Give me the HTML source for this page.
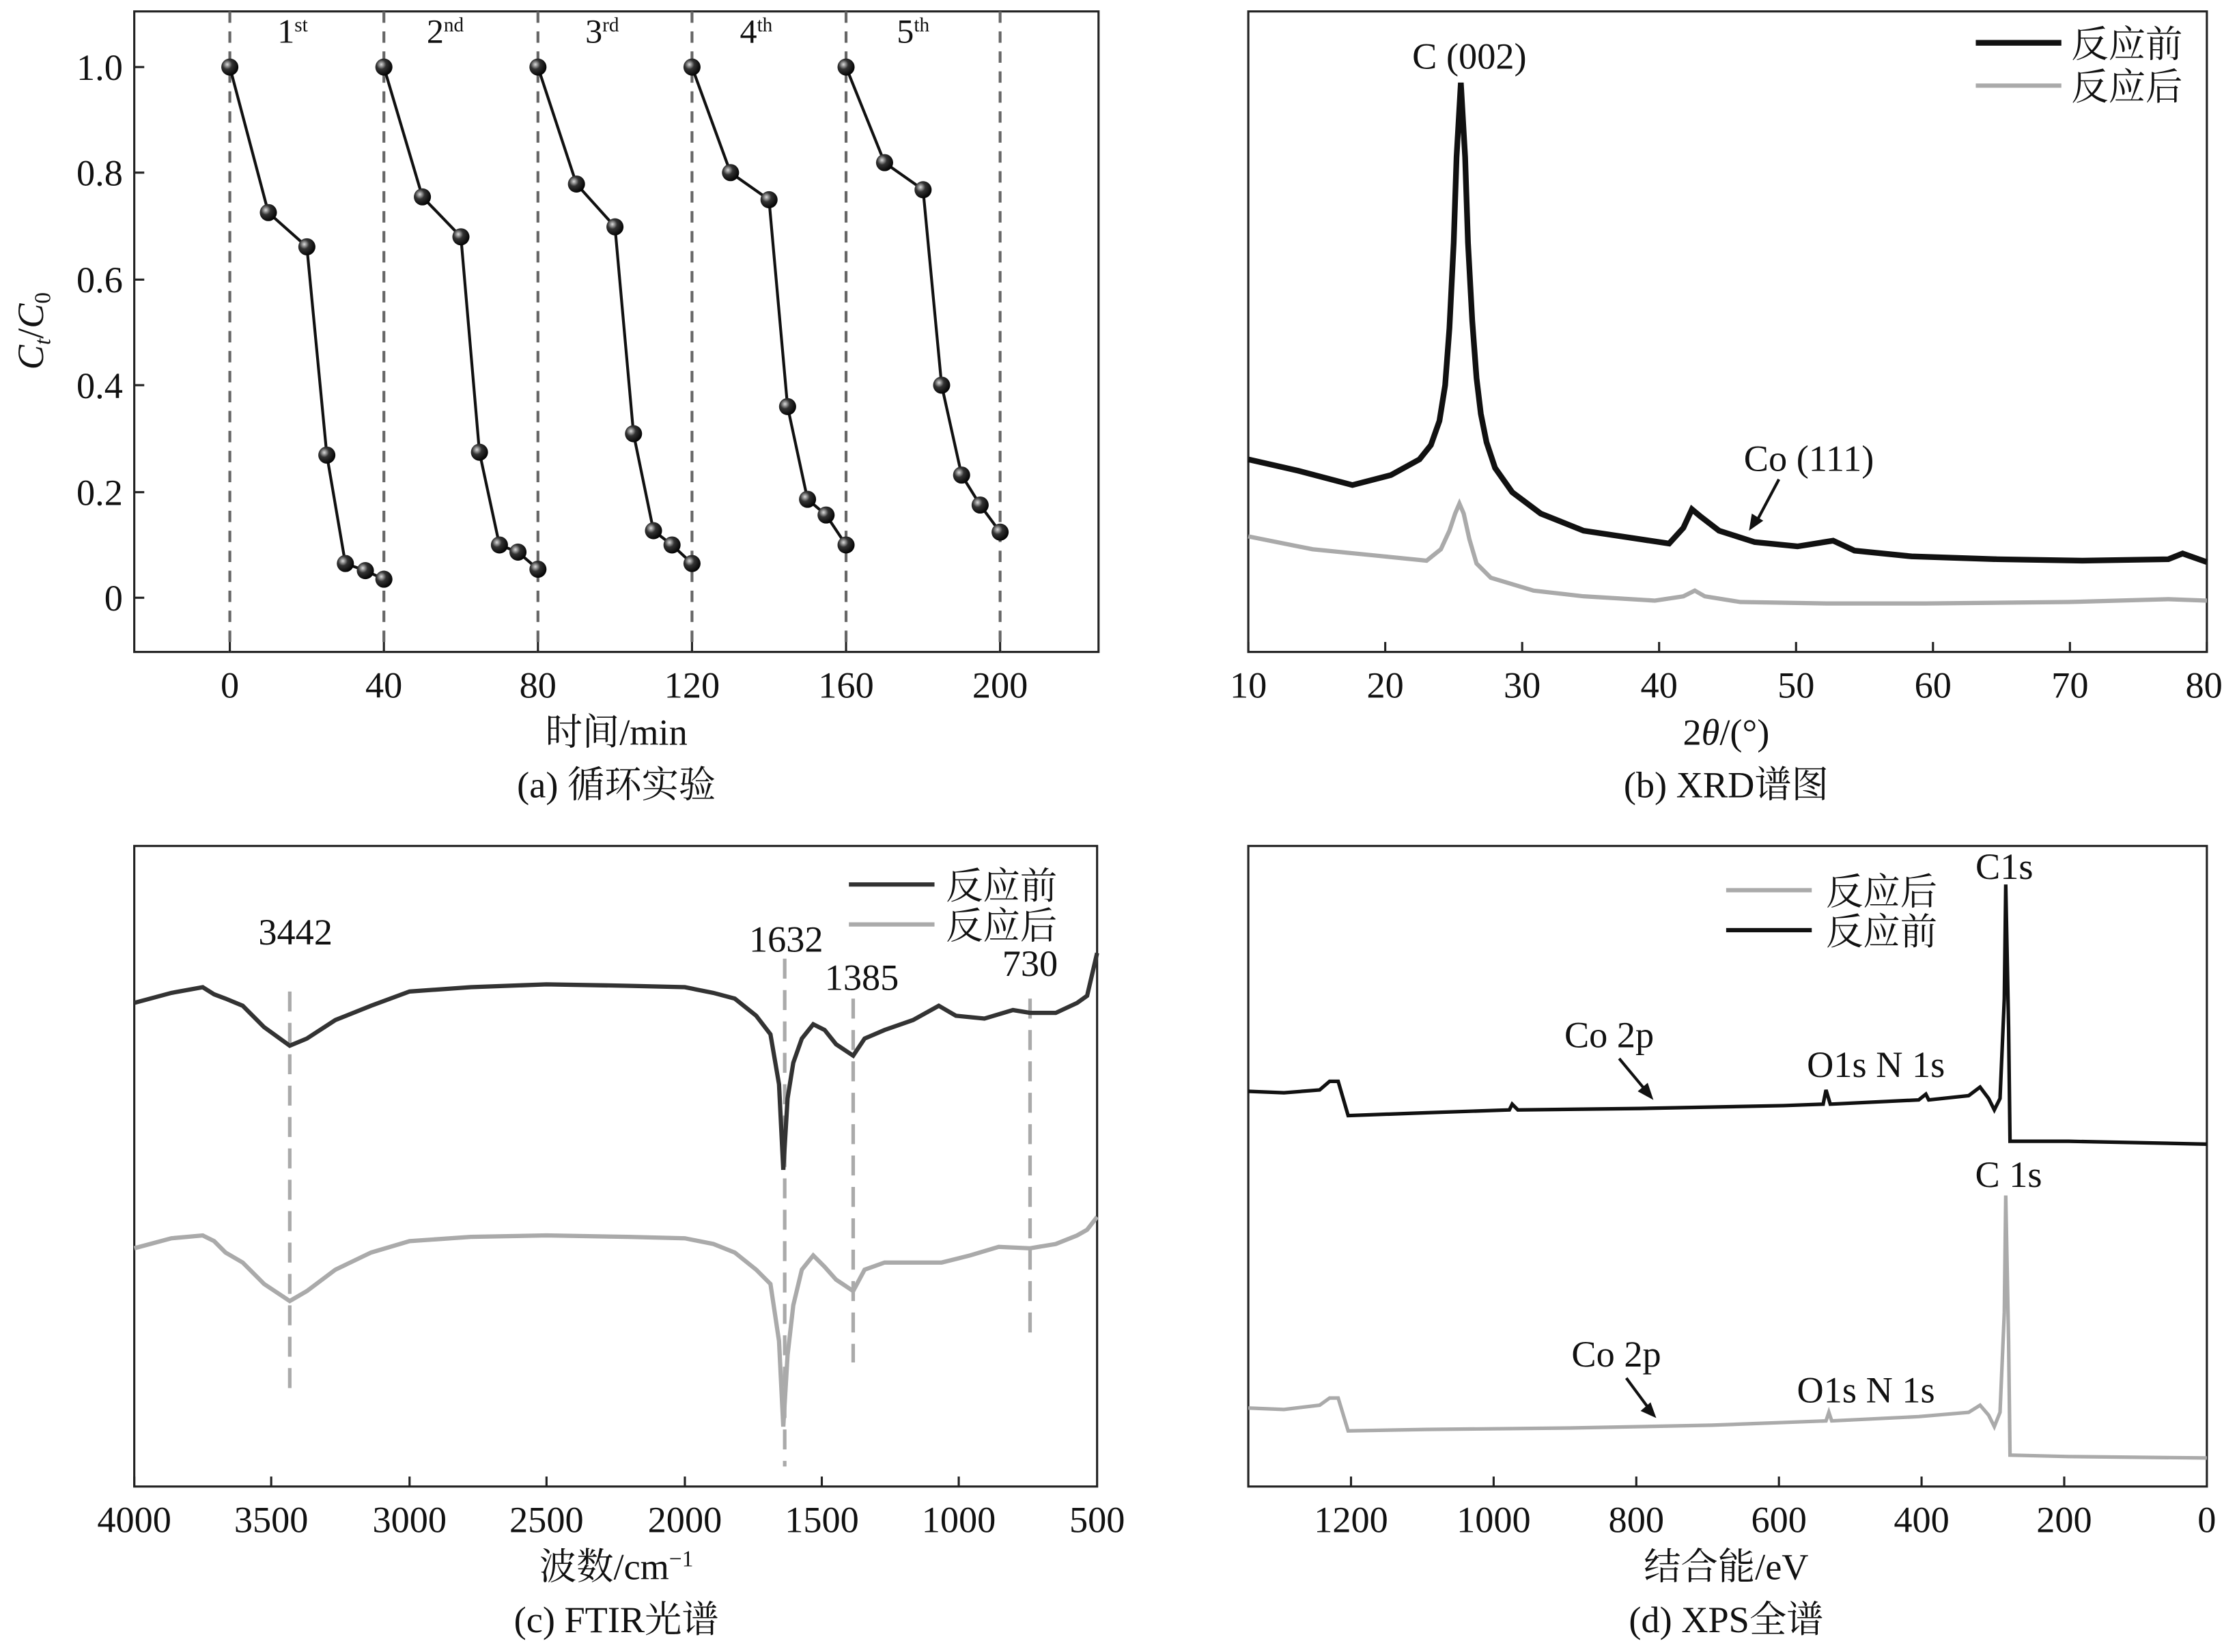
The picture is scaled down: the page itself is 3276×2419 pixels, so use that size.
<!DOCTYPE html>
<html><head><meta charset="utf-8"><style>
html,body{margin:0;padding:0;background:#fff;}
svg{display:block;}
text{font-family:"Liberation Serif","Noto Serif CJK SC",serif;fill:#111;}
</style></head><body>
<svg width="3276" height="2419" viewBox="0 0 1568 1158" xmlns="http://www.w3.org/2000/svg">
<defs>
<radialGradient id="ball" cx="0.35" cy="0.35" r="0.7"><stop offset="0" stop-color="#ddd"/><stop offset="0.4" stop-color="#333"/><stop offset="1" stop-color="#000"/></radialGradient>
</defs>
<g font-size="26">
<!-- Panel a -->
<rect x="94" y="8" width="676" height="449" fill="none" stroke="#222" stroke-width="1.5"/>
<g stroke="#666" stroke-width="2" stroke-dasharray="8,6">
<line x1="161" y1="8" x2="161" y2="457"/><line x1="269" y1="8" x2="269" y2="457"/><line x1="377" y1="8" x2="377" y2="457"/><line x1="485" y1="8" x2="485" y2="457"/><line x1="593" y1="8" x2="593" y2="457"/><line x1="701" y1="8" x2="701" y2="457"/>
</g>
<g stroke="#222" stroke-width="1.5">
<line x1="94" y1="47" x2="101" y2="47"/><line x1="94" y1="121" x2="101" y2="121"/><line x1="94" y1="196" x2="101" y2="196"/><line x1="94" y1="270" x2="101" y2="270"/><line x1="94" y1="345" x2="101" y2="345"/><line x1="94" y1="419" x2="101" y2="419"/>
<line x1="161" y1="457" x2="161" y2="450"/><line x1="269" y1="457" x2="269" y2="450"/><line x1="377" y1="457" x2="377" y2="450"/><line x1="485" y1="457" x2="485" y2="450"/><line x1="593" y1="457" x2="593" y2="450"/><line x1="701" y1="457" x2="701" y2="450"/>
</g>
<g text-anchor="end"><text x="86" y="56">1.0</text><text x="86" y="130">0.8</text><text x="86" y="205">0.6</text><text x="86" y="279">0.4</text><text x="86" y="354">0.2</text><text x="86" y="428">0</text></g>
<g text-anchor="middle"><text x="161" y="489">0</text><text x="269" y="489">40</text><text x="377" y="489">80</text><text x="485" y="489">120</text><text x="593" y="489">160</text><text x="701" y="489">200</text>
<text x="432" y="522">时间/min</text><text x="432" y="559">(a) 循环实验</text></g>
<text transform="translate(30,232) rotate(-90)" text-anchor="middle" font-style="italic">C<tspan font-size="16" dy="5">t</tspan><tspan dy="-5" font-style="normal">/</tspan>C<tspan font-size="16" dy="5" font-style="normal">0</tspan></text>
<g text-anchor="middle" font-size="24"><text x="205" y="30">1<tspan font-size="14" dy="-8">st</tspan></text><text x="312" y="30">2<tspan font-size="14" dy="-8">nd</tspan></text><text x="422" y="30">3<tspan font-size="14" dy="-8">rd</tspan></text><text x="530" y="30">4<tspan font-size="14" dy="-8">th</tspan></text><text x="640" y="30">5<tspan font-size="14" dy="-8">th</tspan></text></g>
<g fill="none" stroke="#111" stroke-width="2">
<polyline points="161,47 188,149 215,173 229,319 242,395 256,400 269,406"/>
<polyline points="269,47 296,138 323,166 336,317 350,382 363,387 377,399"/>
<polyline points="377,47 404,129 431,159 444,304 458,372 471,382 485,395"/>
<polyline points="485,47 512,121 539,140 552,285 566,350 579,361 593,382"/>
<polyline points="593,47 620,114 647,133 660,270 674,333 687,354 701,373"/>
</g>
<g fill="url(#ball)">
<circle cx="161" cy="47" r="6"/><circle cx="188" cy="149" r="6"/><circle cx="215" cy="173" r="6"/><circle cx="229" cy="319" r="6"/><circle cx="242" cy="395" r="6"/><circle cx="256" cy="400" r="6"/><circle cx="269" cy="406" r="6"/>
<circle cx="269" cy="47" r="6"/><circle cx="296" cy="138" r="6"/><circle cx="323" cy="166" r="6"/><circle cx="336" cy="317" r="6"/><circle cx="350" cy="382" r="6"/><circle cx="363" cy="387" r="6"/><circle cx="377" cy="399" r="6"/>
<circle cx="377" cy="47" r="6"/><circle cx="404" cy="129" r="6"/><circle cx="431" cy="159" r="6"/><circle cx="444" cy="304" r="6"/><circle cx="458" cy="372" r="6"/><circle cx="471" cy="382" r="6"/><circle cx="485" cy="395" r="6"/>
<circle cx="485" cy="47" r="6"/><circle cx="512" cy="121" r="6"/><circle cx="539" cy="140" r="6"/><circle cx="552" cy="285" r="6"/><circle cx="566" cy="350" r="6"/><circle cx="579" cy="361" r="6"/><circle cx="593" cy="382" r="6"/>
<circle cx="593" cy="47" r="6"/><circle cx="620" cy="114" r="6"/><circle cx="647" cy="133" r="6"/><circle cx="660" cy="270" r="6"/><circle cx="674" cy="333" r="6"/><circle cx="687" cy="354" r="6"/><circle cx="701" cy="373" r="6"/>
</g>

<!-- Panel b -->
<rect x="875" y="8" width="672" height="449" fill="none" stroke="#222" stroke-width="1.5"/>
<g stroke="#222" stroke-width="1.5">
<line x1="875" y1="457" x2="875" y2="450"/><line x1="971" y1="457" x2="971" y2="450"/><line x1="1067" y1="457" x2="1067" y2="450"/><line x1="1163" y1="457" x2="1163" y2="450"/><line x1="1259" y1="457" x2="1259" y2="450"/><line x1="1355" y1="457" x2="1355" y2="450"/><line x1="1451" y1="457" x2="1451" y2="450"/><line x1="1547" y1="457" x2="1547" y2="450"/>
</g>
<g text-anchor="middle"><text x="875" y="489">10</text><text x="971" y="489">20</text><text x="1067" y="489">30</text><text x="1163" y="489">40</text><text x="1259" y="489">50</text><text x="1355" y="489">60</text><text x="1451" y="489">70</text><text x="1545" y="489">80</text>
<text x="1210" y="522">2<tspan font-style="italic">θ</tspan>/(°)</text><text x="1210" y="559">(b) XRD谱图</text></g>
<polyline fill="none" stroke="#111" stroke-width="4" points="875,322 910,330 948,340 975,333 995,322 1003,312 1009,295 1013,270 1016,230 1019,170 1021,110 1024,58 1027,110 1029,170 1032,225 1035,265 1038,290 1042,310 1048,328 1060,345 1080,360 1110,372 1150,378 1170,381 1180,370 1186,357 1192,362 1205,372 1230,380 1260,383 1285,379 1300,386 1340,390 1400,392 1460,393 1520,392 1530,388 1547,394"/>
<polyline fill="none" stroke="#aaa" stroke-width="3" points="875,376 920,385 970,390 1000,393 1010,385 1016,372 1020,360 1023,353 1026,360 1030,378 1035,395 1045,405 1075,414 1110,418 1160,421 1180,418 1188,414 1195,418 1220,422 1280,423 1350,423 1450,422 1520,420 1547,421"/>
<text x="1030" y="48" text-anchor="middle">C (002)</text>
<text x="1268" y="330" text-anchor="middle">Co (111)</text>
<line x1="1247" y1="336" x2="1230" y2="368" stroke="#111" stroke-width="2"/><polygon points="1226,372 1228,360 1236,365" fill="#111"/>
<line x1="1385" y1="30" x2="1445" y2="30" stroke="#111" stroke-width="4"/><text x="1452" y="40">反应前</text>
<line x1="1385" y1="60" x2="1445" y2="60" stroke="#aaa" stroke-width="3"/><text x="1452" y="70">反应后</text>

<!-- Panel c -->
<rect x="94" y="593" width="675" height="449" fill="none" stroke="#222" stroke-width="1.5"/>
<g stroke="#222" stroke-width="1.5">
<line x1="94" y1="1042" x2="94" y2="1035"/><line x1="190" y1="1042" x2="190" y2="1035"/><line x1="287" y1="1042" x2="287" y2="1035"/><line x1="383" y1="1042" x2="383" y2="1035"/><line x1="480" y1="1042" x2="480" y2="1035"/><line x1="576" y1="1042" x2="576" y2="1035"/><line x1="672" y1="1042" x2="672" y2="1035"/>
</g>
<g text-anchor="middle"><text x="94" y="1074">4000</text><text x="190" y="1074">3500</text><text x="287" y="1074">3000</text><text x="383" y="1074">2500</text><text x="480" y="1074">2000</text><text x="576" y="1074">1500</text><text x="672" y="1074">1000</text><text x="769" y="1074">500</text>
<text x="432" y="1107">波数/cm<tspan font-size="16" dy="-9">−1</tspan></text><text x="432" y="1144">(c) FTIR光谱</text></g>
<g stroke="#aaa" stroke-width="2.5" stroke-dasharray="14,8">
<line x1="203" y1="695" x2="203" y2="975"/><line x1="550" y1="672" x2="550" y2="1028"/><line x1="598" y1="700" x2="598" y2="955"/><line x1="722" y1="700" x2="722" y2="940"/>
</g>
<polyline fill="none" stroke="#333" stroke-width="3" points="94,703 120,696 142,692 150,697 158,700 170,705 185,720 203,733 215,728 235,715 260,705 287,695 330,692 383,690 440,691 480,692 500,696 515,700 530,712 540,725 546,760 549,820 552,770 556,745 562,728 570,718 578,722 586,732 598,740 606,728 620,722 640,715 658,705 670,712 690,714 710,708 722,710 740,710 755,703 762,698 769,668"/>
<polyline fill="none" stroke="#aaa" stroke-width="3" points="94,875 120,868 142,866 150,870 158,878 170,885 185,900 203,912 215,905 235,890 260,878 287,870 330,867 383,866 440,867 480,868 500,872 515,878 530,890 540,900 546,940 549,1000 552,950 556,915 562,890 570,880 578,888 586,897 598,905 606,890 620,885 660,885 680,880 700,874 722,875 740,872 755,866 762,862 769,853"/>
<g text-anchor="middle"><text x="207" y="662">3442</text><text x="551" y="667">1632</text><text x="604" y="694">1385</text><text x="722" y="684">730</text></g>
<line x1="595" y1="620" x2="655" y2="620" stroke="#333" stroke-width="3"/><text x="663" y="630">反应前</text>
<line x1="595" y1="648" x2="655" y2="648" stroke="#aaa" stroke-width="3"/><text x="663" y="658">反应后</text>

<!-- Panel d -->
<rect x="875" y="593" width="672" height="449" fill="none" stroke="#222" stroke-width="1.5"/>
<g stroke="#222" stroke-width="1.5">
<line x1="947" y1="1042" x2="947" y2="1035"/><line x1="1047" y1="1042" x2="1047" y2="1035"/><line x1="1147" y1="1042" x2="1147" y2="1035"/><line x1="1247" y1="1042" x2="1247" y2="1035"/><line x1="1347" y1="1042" x2="1347" y2="1035"/><line x1="1447" y1="1042" x2="1447" y2="1035"/>
</g>
<g text-anchor="middle"><text x="947" y="1074">1200</text><text x="1047" y="1074">1000</text><text x="1147" y="1074">800</text><text x="1247" y="1074">600</text><text x="1347" y="1074">400</text><text x="1447" y="1074">200</text><text x="1547" y="1074">0</text>
<text x="1210" y="1107">结合能/eV</text><text x="1210" y="1144">(d) XPS全谱</text></g>
<polyline fill="none" stroke="#111" stroke-width="2.5" points="875,765 900,766 925,764 932,758 938,758 945,782 1000,780 1058,778 1060,774 1064,778 1150,777 1250,775 1278,774 1280,764 1283,774 1345,771 1350,767 1352,771 1380,768 1388,762 1394,770 1398,778 1402,770 1405,700 1406,620 1408,720 1409,800 1450,800 1500,801 1547,802"/>
<polyline fill="none" stroke="#aaa" stroke-width="2.5" points="875,987 900,988 925,985 932,980 938,980 945,1003 1000,1002 1100,1001 1200,999 1280,996 1282,990 1284,996 1345,993 1380,990 1388,985 1394,992 1398,1000 1402,990 1405,920 1406,838 1408,940 1409,1020 1450,1021 1547,1022"/>
<text x="1405" y="616" text-anchor="middle">C1s</text>
<text x="1408" y="832" text-anchor="middle">C 1s</text>
<text x="1128" y="734" text-anchor="middle">Co 2p</text>
<line x1="1135" y1="742" x2="1155" y2="766" stroke="#111" stroke-width="2"/><polygon points="1159,771 1148,765 1155,759" fill="#111"/>
<text x="1315" y="755" text-anchor="middle">O1s N 1s</text>
<text x="1133" y="958" text-anchor="middle">Co 2p</text>
<line x1="1140" y1="966" x2="1157" y2="989" stroke="#111" stroke-width="2"/><polygon points="1161,994 1150,989 1157,983" fill="#111"/>
<text x="1308" y="983" text-anchor="middle">O1s N 1s</text>
<line x1="1210" y1="624" x2="1270" y2="624" stroke="#aaa" stroke-width="3"/><text x="1280" y="634">反应后</text>
<line x1="1210" y1="652" x2="1270" y2="652" stroke="#111" stroke-width="3"/><text x="1280" y="662">反应前</text>
</g>
</svg>
</body></html>
